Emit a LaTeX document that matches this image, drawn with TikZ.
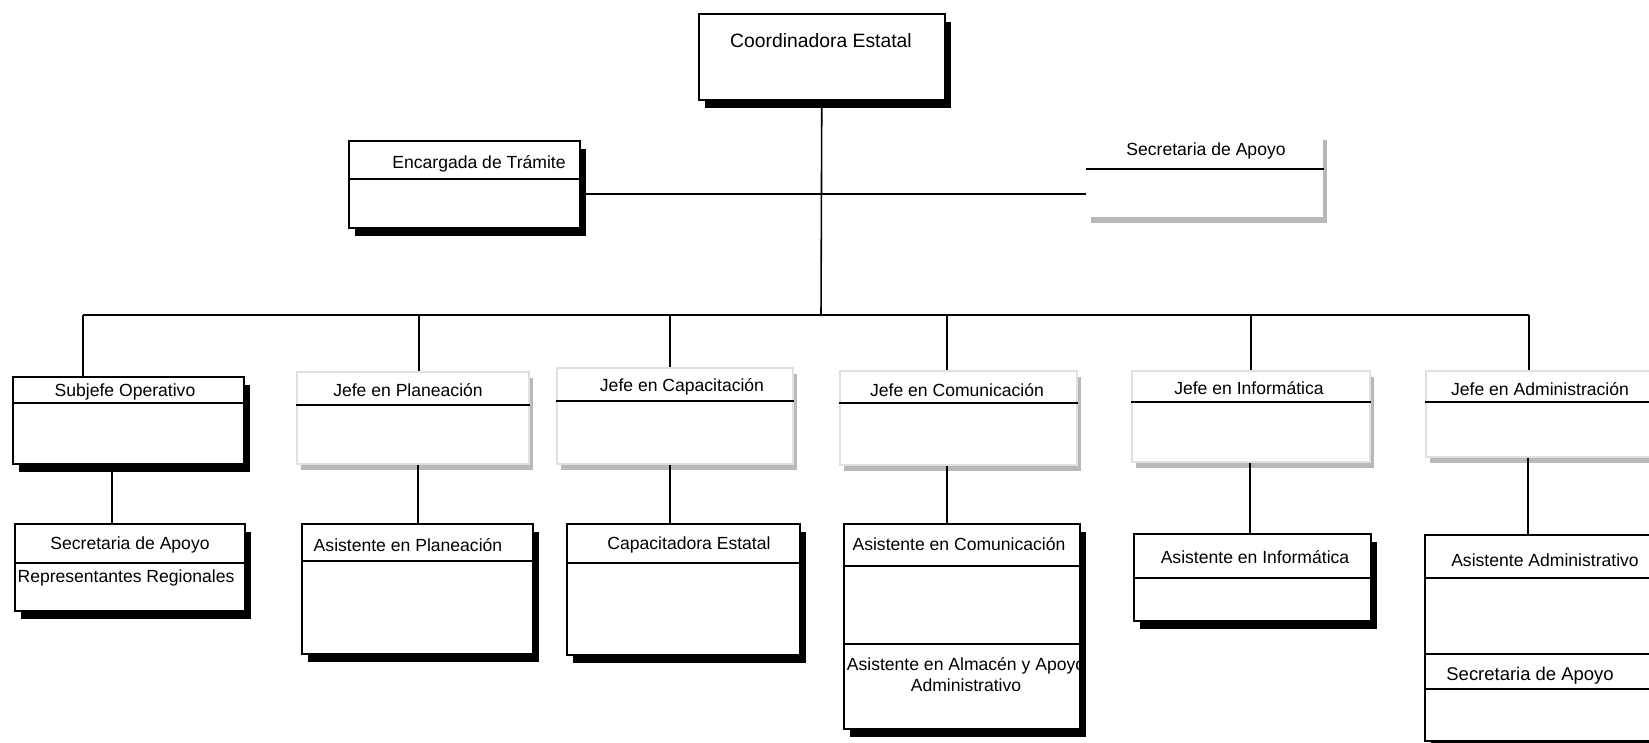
\documentclass[tikz,border=0pt]{standalone}
\usepackage{fontspec}
\setmainfont{Liberation Sans}
\usetikzlibrary{shadows}

\def\pxl{0.02cm}

\begin{document}
\begin{tikzpicture}[x=\pxl, y=-\pxl, line width=0.9pt, font=\fontsize{10}{12}\selectfont]
		\tikzstyle{cell}=[rectangle, fill=white, anchor=north west, inner sep=0pt, line width=0.9pt]
		\tikzstyle{box}=[cell, draw=black, general shadow={fill=black, shadow xshift=0.12cm, shadow yshift=-0.17cm}]
		\tikzstyle{faded box}=[cell, draw=black!12, general shadow={fill=black!28, shadow xshift=0.08cm, shadow yshift=-0.12cm}]
		\tikzstyle{plain box}=[cell, general shadow={fill=black!28, shadow xshift=0.08cm, shadow yshift=-0.12cm}]
		\tikzstyle{lbl}=[inner sep=0pt, align=center]
		\tikzstyle{link}=[draw=black]

		\useasboundingbox (0,0) rectangle (1649,743);
		\clip (0,0) rectangle (1649,743);

		% Draw the boxes with black shadow
		\foreach \name/\x/\y/\w/\h in {coord/698/13/246/86, tram/348/140/231/87,
			subj/12/376/231/87, secr/14/523/230/87, asplan/301/523/231/130,
			capest/566/523/233/131, ascom/843/523/236/205, asinf/1133/533/237/87,
			asadm/1424/534/240/206}
		\node[box, minimum width=\w*\pxl, minimum height=\h*\pxl] (\name) at (\x,\y) {};

		% Draw the faded boxes of the second row
		\foreach \name/\x/\y/\w/\h in {plan/296/371/232/92, capa/556/367/236/96,
			comu/839/370/237/94, info/1131/370/238/91, admi/1425/370/240/86}
		\node[faded box, minimum width=\w*\pxl, minimum height=\h*\pxl] (\name) at (\x,\y) {};

		\node[plain box, minimum width=236*\pxl, minimum height=83*\pxl] (secA) at (1086,133) {};

		% Rules under the titles
		\foreach \name/\d in {tram/39, subj/27, secr/40, asplan/38, capest/40,
			ascom/43, ascom/121, asinf/45, asadm/44, asadm/120, asadm/155,
			plan/34, capa/34, comu/33, info/32, admi/32, secA/36}
		\draw ([yshift=-\d*\pxl]\name.north west) -- ([yshift=-\d*\pxl]\name.north east);

		% Titles
		\node[lbl, font=\fontsize{11}{13}\selectfont] (coord-t) at (821,41) {Coordinadora Estatal};
		\node[lbl] (tram-t) at (479,164) {Encargada de Trámite};
		\node[lbl] (secA-t) at (1206,151) {Secretaria de Apoyo};
		\node[lbl] (subj-t) at (125,392) {Subjefe Operativo};
		\node[lbl] (plan-t) at (408,390) {Jefe en Planeación};
		\node[lbl] (capa-t) at (682,387) {Jefe en Capacitación};
		\node[lbl] (comu-t) at (957,390) {Jefe en Comunicación};
		\node[lbl] (info-t) at (1249,388) {Jefe en Informática};
		\node[lbl] (admi-t) at (1540,389) {Jefe en Administración};
		\node[lbl] (secr-t) at (130,545) {Secretaria de Apoyo};
		\node[lbl] (secr-b) at (126,578) {Representantes Regionales};
		\node[lbl] (asplan-t) at (408,545) {Asistente en Planeación};
		\node[lbl] (capest-t) at (689,545) {Capacitadora Estatal};
		\node[lbl] (ascom-t) at (959,544) {Asistente en Comunicación};
		\node[lbl] (ascom-b) at (966,675) {Asistente en Almacén y Apoyo\\Administrativo};
		\node[lbl] (asinf-t) at (1255,557) {Asistente en Informática};
		\node[lbl] (asadm-t) at (1545,560) {Asistente Administrativo};
		\node[lbl, font=\fontsize{10.5}{12}\selectfont] (asadm-b) at (1530,676) {Secretaria de Apoyo};

		% Connect the head with the staff and the bus line
		\coordinate (hub) at (821,315);
		\coordinate (mid) at (821,194);
		\draw[link] (coord.south) -- (hub);
		\draw[link] (tram.east |- mid) -- (secA.west |- mid);

		\foreach \name/\x in {subj/83, plan/419, capa/670, comu/947, info/1251, admi/1529} {
			\coordinate (T-\name) at (\x,315);
			\draw[link] (T-\name) -- (\name.north -| T-\name);
		}
		\draw[link] (T-subj) -- (T-admi);

		% Connect every head with its assistant
		\foreach \up/\down/\x in {subj/secr/112, plan/asplan/418, capa/capest/670,
			comu/ascom/947, info/asinf/1250, admi/asadm/1528} {
			\coordinate (B-\down) at (\x,0);
			\draw[link] (\up.south -| B-\down) -- (\down.north -| B-\down);
		}
\end{tikzpicture}
\end{document}
